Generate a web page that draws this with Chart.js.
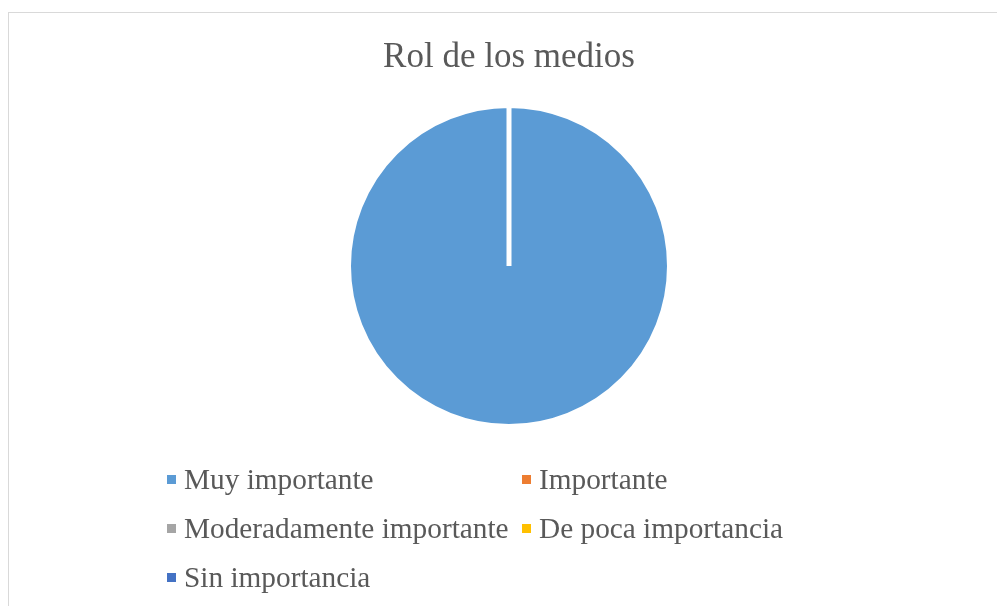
<!DOCTYPE html>
<html>
<head>
<meta charset="utf-8">
<script src="https://cdn.jsdelivr.net/npm/chart.js@4"></script>
<style>
  html, body { margin: 0; padding: 0; background: #fff; }
  #wrap { position: relative; width: 997px; height: 606px; overflow: hidden; }
  #frame { position: absolute; left: 8px; top: 12px; width: 1000px; height: 700px; border: 1px solid #d9d9d9; box-sizing: border-box; }
  #legend { position: absolute; left: 167px; top: 455px; display: grid; grid-template-columns: 355px 355px; grid-auto-rows: 49px; font-family: "Liberation Serif", "Times New Roman", serif; font-size: 29.3px; color: #595959; }
  #legend div { display: flex; align-items: center; white-space: nowrap; }
  #legend span.box { display: inline-block; width: 9px; height: 9px; margin-right: 8px; }
</style>
</head>
<body>
<div id="wrap">
  <div id="frame"></div>
  <canvas id="pieChart" width="997" height="606"></canvas>
  <div id="legend"></div>
</div>
<script>
const categories = ["Muy importante", "Importante", "Moderadamente importante", "De poca importancia", "Sin importancia"];
const values = [100, 0, 0, 0, 0];
const colors = ["#5B9BD5", "#ED7D31", "#A5A5A5", "#FFC000", "#4472C4"];

const chart = new Chart(document.getElementById("pieChart"), {
  type: "pie",
  data: {
    labels: categories,
    datasets: [{
      data: values,
      backgroundColor: colors,
      borderColor: "#ffffff",
      borderWidth: 5
    }]
  },
  options: {
    responsive: false,
    animation: false,
    layout: { padding: { top: 0, bottom: 177, left: 346, right: 325 } },
    plugins: {
      legend: { display: false },
      tooltip: { enabled: false },
      title: {
        display: true,
        text: "Rol de los medios",
        color: "#595959",
        font: { family: "'Liberation Serif', 'Times New Roman', serif", size: 35, weight: "normal" },
        padding: { top: 37, bottom: 24 }
      }
    }
  }
});

// LEGEND (two columns, like the original)
const legend = document.getElementById("legend");
chart.legend.legendItems.forEach(item => {
  const row = document.createElement("div");
  const box = document.createElement("span");
  box.className = "box";
  box.style.background = item.fillStyle;
  row.appendChild(box);
  row.appendChild(document.createTextNode(item.text));
  legend.appendChild(row);
});
</script>
</body>
</html>
